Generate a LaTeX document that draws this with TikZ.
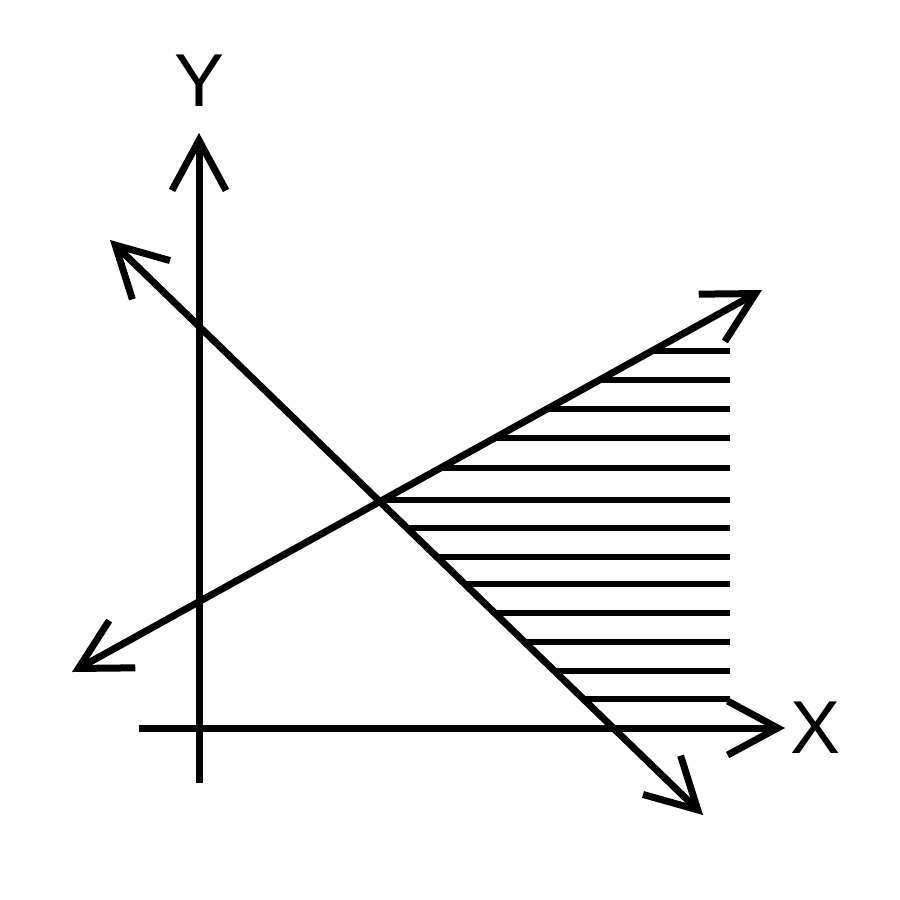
\documentclass[tikz,border=0pt]{standalone}
\usepackage{fontspec}
\setmainfont{Liberation Sans}
\usetikzlibrary{arrows.meta}
\begin{document}
\begin{tikzpicture}[x=1pt,y=-1pt,
  mainline/.style={line width=7pt,draw=black},
  hatchline/.style={line width=6pt,draw=black},
  barb/.style={-{Straight Barb[length=50pt,width=54pt,line join=miter]}},
  dbarb/.style={{Straight Barb[length=50pt,width=54pt,line join=miter]}-{Straight Barb[length=50pt,width=54pt,line join=miter]}},
  axislabel/.style={inner sep=0pt,font=\fontsize{75}{75}\selectfont}]
\useasboundingbox (0,0) rectangle (900,900);
\fill[white] (0,0) rectangle (900,900);
% axes
\coordinate (ybot) at (199,783);
\coordinate (ytop) at (199,133);
\coordinate (xleft) at (139,728);
\coordinate (xright) at (785,728);
\draw[mainline,barb] (ybot) -- (ytop);
\draw[mainline,barb] (xleft) -- (xright);
\node[axislabel] (ylab) at (200,81) {Y};
\node[axislabel] (xlab) at (816,728) {X};
% lines
\coordinate (aA) at (110,240);
\coordinate (aB) at (703,815);
\coordinate (bA) at (72,672);
\coordinate (bB) at (762,290);
% hatching
\foreach \yy in {351,380,409,438,468,500}{
  \pgfmathsetmacro{\xs}{72+(672-\yy)/382*690}
  \coordinate (hs) at (\xs,\yy);
  \coordinate (he) at (730,\yy);
  \draw[hatchline] (hs) -- (he);
}
\foreach \yy in {528,557,584,613,642,671,699}{
  \pgfmathsetmacro{\xs}{110+(\yy-240)/575*593}
  \coordinate (hs) at (\xs,\yy);
  \coordinate (he) at (730,\yy);
  \draw[hatchline] (hs) -- (he);
}
\draw[mainline,dbarb] (aA) -- (aB);
\draw[mainline,dbarb] (bA) -- (bB);
\end{tikzpicture}
\end{document}
